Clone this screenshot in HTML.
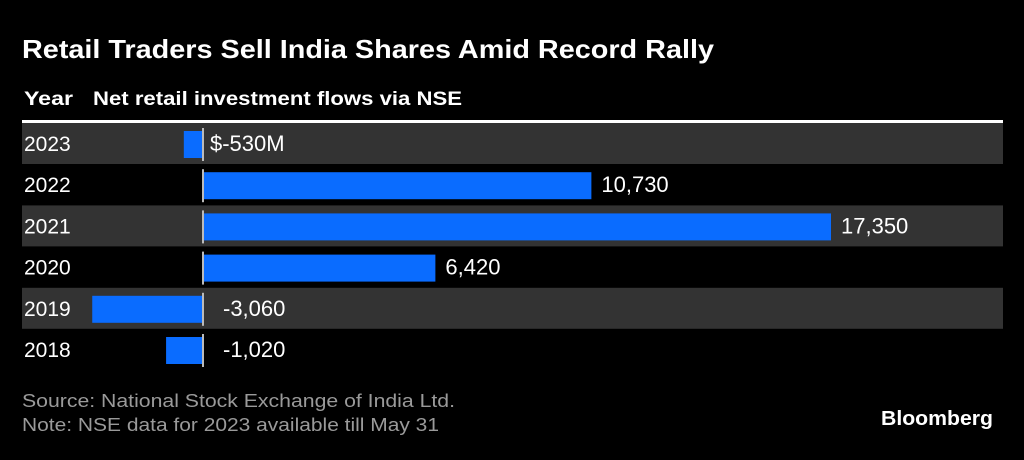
<!DOCTYPE html>
<html><head><meta charset="utf-8"><style>
body{margin:0;background:#000;width:1024px;height:455px;overflow:hidden;font-family:"Liberation Sans",sans-serif;color:#fff}
</style></head><body>
<svg width="1024" height="455">
<text x="22" y="58" font-size="26" font-weight="bold" fill="#fff" textLength="692" lengthAdjust="spacingAndGlyphs">Retail Traders Sell India Shares Amid Record Rally</text>
<text x="24" y="105" font-size="19" font-weight="bold" fill="#fff" textLength="49" lengthAdjust="spacingAndGlyphs">Year</text>
<text x="93" y="105" font-size="19" font-weight="bold" fill="#fff" textLength="369" lengthAdjust="spacingAndGlyphs">Net retail investment flows via NSE</text>
<rect x="22" y="120" width="981" height="3" fill="#fff"/>
<g id="rows"></g>
<text x="22" y="407" font-size="18" fill="#9a9a9a" textLength="433" lengthAdjust="spacingAndGlyphs">Source: National Stock Exchange of India Ltd.</text>
<text x="22" y="431" font-size="18" fill="#9a9a9a" textLength="417" lengthAdjust="spacingAndGlyphs">Note: NSE data for 2023 available till May 31</text>
<text x="993" y="425" font-size="20" font-weight="bold" fill="#fff" text-anchor="end" textLength="112" lengthAdjust="spacingAndGlyphs">Bloomberg</text>
</svg>
<script>
const years=["2023","2022","2021","2020","2019","2018"];
const values=[-530,10730,17350,6420,-3060,-1020];
const labels=["$-530M","10,730","17,350","6,420","-3,060","-1,020"];
const NS="http://www.w3.org/2000/svg";
const x0=203, k=628/17350;
function xs(v){return x0+v*k;}
const g=document.getElementById('rows');
function mk(t,a){const e=document.createElementNS(NS,t);for(const n in a)e.setAttribute(n,a[n]);g.appendChild(e);return e;}
years.forEach((y,i)=>{
 const top=123+i*41.2;
 if(i%2===0){const b=mk('rect',{x:22,y:top,width:981,height:41,fill:'#333'});
 
 }
 const v=values[i];
 const x1=xs(Math.min(0,v)), w=Math.abs(xs(v)-x0);
 const bar=mk('rect',{x:x1,y:top+8,width:w,height:27,fill:'#0a6cff'});
 
 
 const ax=mk('rect',{x:x0-1,y:top+5,width:2,height:33,fill:'#bbb'});
 
 
 const yl=mk('text',{x:24,y:top+28,'font-size':21,fill:'#fff'});yl.textContent=y;
 
 
 const lx=v>=0?xs(v)+10:x0+(i===0?7:20);
 const vl=mk('text',{x:lx,y:top+28,'font-size':22,fill:'#fff'});vl.textContent=labels[i];
 
 
});
</script>
</body></html>
